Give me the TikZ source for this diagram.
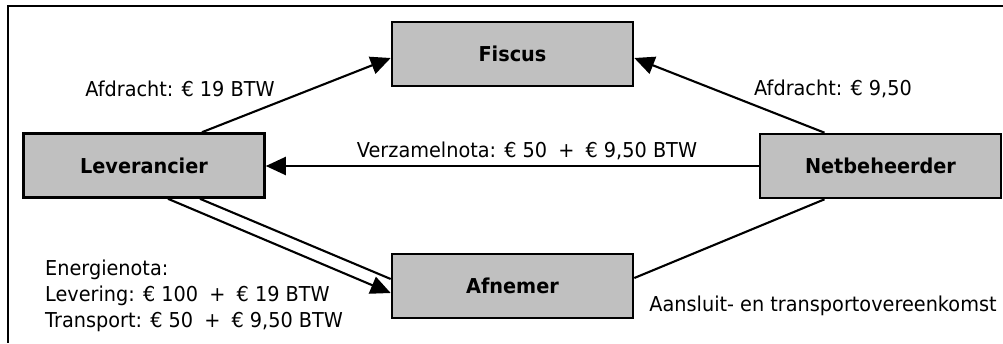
\documentclass[tikz,border=0pt]{standalone}
\usepackage{fontspec}
\setmainfont[FakeStretch=0.94]{DejaVu Sans}
\usetikzlibrary{arrows.meta,calc}
\definecolor{boxgray}{HTML}{C0C0C0}
% a plus sign with the wider spacing used in the amounts
\newcommand\plusop{\kern5pt\ +\ \kern5pt}
\begin{document}
\begin{tikzpicture}[x=1pt,y=-1pt,
  party/.style={draw=black, line width=2.6pt, fill=boxgray, minimum width=241pt,
    minimum height=64pt, inner sep=0pt, font=\fontsize{20.5}{26}\selectfont\bfseries},
  lbl/.style={inner sep=0pt, font=\fontsize{20.5}{26}\selectfont},
  link/.style={draw=black, line width=2.1pt},
  arr/.style={link, -{Triangle[length=20pt,width=18pt]}}]
\useasboundingbox (0,0) rectangle (1003,343);

% outer frame (top and left edges)
\draw[line width=2.5pt, line join=miter] (1003,6) -- (8,6) -- (8,343);

% parties
\node[party] (fis) at (512.5,54)  {Fiscus};
\node[party] (lev) at (144,165.5) {Leverancier};
\node[party] (net) at (880.5,166) {Netbeheerder};
\node[party] (afn) at (512.5,286) {Afnemer};

% connectors
\draw[arr] ($(lev.north)+(58,0)$) -- ($(fis.west)+(0,4)$);
\draw[arr] ($(net.north)+(-56,0)$) -- ($(fis.east)+(0,4)$);
\draw[arr] (net.west) -- (lev.east |- net.west);
\draw[link] ($(net.south)+(-56,0)$) -- ($(afn.east)+(0,-8)$);
\draw[arr] ($(lev.south)+(24,0)$) -- ($(afn.west)+(0,7)$);
\draw[link] ($(lev.south)+(56,0)$) -- ($(afn.west)+(0,-7)$);

% labels
\node[lbl] (l1) at (180,89)  {Afdracht: € 19 BTW};
\node[lbl] (l2) at (833,89)  {Afdracht: € 9,50};
\node[lbl] (l3) at (527,151) {Verzamelnota: € 50\plusop€ 9,50 BTW};
\node[lbl] (l4) at (823,306) {Aansluit- en transportovereenkomst};
\node[lbl, align=left, anchor=west] (l5) at (45,296)
  {Energienota:\\Levering: € 100\plusop€ 19 BTW\\Transport: € 50\plusop€ 9,50 BTW};
\end{tikzpicture}
\end{document}
